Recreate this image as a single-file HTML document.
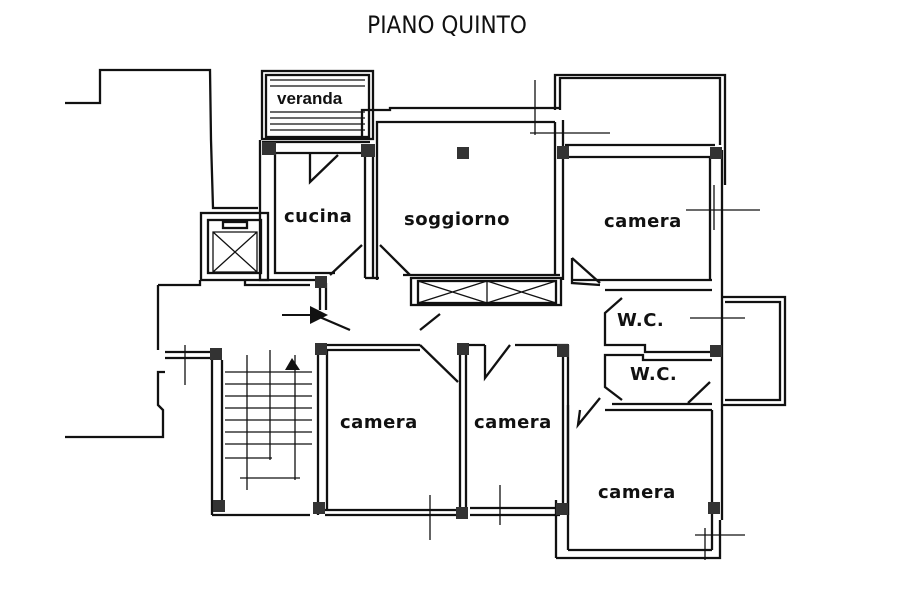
<!DOCTYPE html>
<html><head><meta charset="utf-8"><style>
html,body{margin:0;padding:0;background:#fff;}
svg{display:block}
text{font-family:"Liberation Sans",sans-serif;}
.h{font-family:"DejaVu Sans","Liberation Sans",sans-serif;font-size:18px;fill:#111;letter-spacing:0.5px;font-weight:bold}
</style></head><body>
<svg width="900" height="600" viewBox="0 0 900 600" xmlns="http://www.w3.org/2000/svg">
<rect width="900" height="600" fill="#fff"/>
<text x="447" y="33" text-anchor="middle" font-size="24" fill="#111" style="font-family:'DejaVu Sans Condensed','Liberation Sans Narrow','Liberation Sans',sans-serif">PIANO QUINTO</text>
<g fill="none" stroke="#111" stroke-width="2.3">
<polyline points="65,103 100,103 100,70 210,70 211,140 213,208 258,208"/>
<polyline points="65,437 163,437 163,410 158,405 158,372 165,372"/>
<polyline points="158,285 158,350"/>
<rect x="262" y="71" width="111" height="68"/>
<rect x="266" y="75" width="103" height="62"/>
<polyline points="260,140 260,280 320,280"/>
<polyline points="275,153 275,273 335,273"/>
<line x1="262" y1="142" x2="370" y2="142"/><line x1="262" y1="153" x2="370" y2="153"/>
<polyline points="310,153 310,182 338,155"/>
<polyline points="362,140 362,110 390,110 390,108 560,108"/>
<polyline points="377,280 377,122 555,122"/>
<line x1="365" y1="150" x2="365" y2="278"/><line x1="373" y1="153" x2="373" y2="278"/>
<line x1="365" y1="278" x2="379" y2="278"/>
<line x1="555" y1="122" x2="555" y2="275"/><line x1="563" y1="120" x2="563" y2="280"/>
<line x1="403" y1="275" x2="560" y2="275"/>
<polyline points="330,275 362,245"/>
<polyline points="380,245 410,275"/>
<rect x="411" y="278" width="150" height="27"/>
<rect x="418" y="281" width="138" height="22"/>
<path d="M418,281 L487,303 M418,303 L487,281 M487,281 L556,303 M487,303 L556,281 M487,281 V303" stroke-width="1.3"/>
<polyline points="555,110 555,75 725,75 725,185"/>
<polyline points="560,110 560,78 720,78 720,145"/>
<line x1="530" y1="133" x2="610" y2="133" stroke-width="1.3"/>
<line x1="535" y1="80" x2="535" y2="135" stroke-width="1.3"/>
<line x1="565" y1="145" x2="715" y2="145"/><line x1="565" y1="157" x2="710" y2="157"/>
<line x1="710" y1="157" x2="710" y2="280"/><line x1="722" y1="150" x2="722" y2="520"/>
<line x1="572" y1="280" x2="712" y2="280"/><line x1="605" y1="290" x2="712" y2="290"/>
<line x1="686" y1="210" x2="760" y2="210" stroke-width="1.3"/>
<line x1="714" y1="185" x2="714" y2="230" stroke-width="1.3"/>
<polyline points="572,258 572,283 600,285"/>
<polyline points="572,258 600,283"/>
<polyline points="622,298 605,313 605,345 620,345"/>
<polyline points="622,400 605,387 605,355 620,355"/>
<polyline points="600,398 578,425 580,410"/>
<polyline points="620,345 645,345 645,352 712,352"/>
<polyline points="620,355 643,355 643,360 712,360"/>
<polyline points="612,404 712,404"/><polyline points="605,410 712,410"/>
<polyline points="688,403 710,382"/>
<line x1="690" y1="318" x2="745" y2="318" stroke-width="1.3"/>
<polyline points="722,297 785,297 785,405 722,405"/>
<polyline points="725,302 780,302 780,400 725,400"/>
<line x1="568" y1="405" x2="568" y2="550"/><line x1="556" y1="500" x2="556" y2="558"/>
<line x1="712" y1="410" x2="712" y2="550"/>
<polyline points="556,558 720,558 720,520"/>
<line x1="568" y1="550" x2="712" y2="550"/>
<line x1="695" y1="535" x2="745" y2="535" stroke-width="1.3"/>
<line x1="705" y1="528" x2="705" y2="560" stroke-width="1.3"/>
<line x1="460" y1="345" x2="460" y2="515"/><line x1="466" y1="350" x2="466" y2="510"/>
<line x1="463" y1="345" x2="485" y2="345"/><line x1="515" y1="345" x2="568" y2="345"/>
<line x1="568" y1="345" x2="568" y2="515"/><line x1="563" y1="350" x2="563" y2="510"/>
<polyline points="485,345 485,378 510,345"/>
<line x1="470" y1="508" x2="560" y2="508"/><line x1="470" y1="515" x2="560" y2="515"/>
<line x1="500" y1="485" x2="500" y2="525" stroke-width="1.3"/>
<line x1="318" y1="345" x2="318" y2="515"/><line x1="327" y1="350" x2="327" y2="510"/>
<line x1="325" y1="345" x2="420" y2="345"/><line x1="325" y1="350" x2="420" y2="350"/>
<polyline points="420,345 458,382"/>
<polyline points="420,330 440,314"/>
<line x1="325" y1="510" x2="460" y2="510"/><line x1="325" y1="515" x2="460" y2="515"/>
<line x1="430" y1="495" x2="430" y2="540" stroke-width="1.3"/>
<line x1="212" y1="350" x2="212" y2="515"/><line x1="222" y1="360" x2="222" y2="505"/>
<line x1="212" y1="515" x2="310" y2="515"/>
<g stroke-width="1.3">
<line x1="225" y1="372" x2="312" y2="372"/><line x1="225" y1="384" x2="312" y2="384"/><line x1="225" y1="396" x2="312" y2="396"/><line x1="225" y1="408" x2="312" y2="408"/><line x1="225" y1="420" x2="312" y2="420"/><line x1="225" y1="432" x2="312" y2="432"/><line x1="225" y1="444" x2="312" y2="444"/><line x1="225" y1="458" x2="272" y2="458"/>
<line x1="247" y1="355" x2="247" y2="490"/><line x1="270" y1="350" x2="270" y2="460"/>
<line x1="240" y1="478" x2="300" y2="478"/><line x1="295" y1="355" x2="295" y2="480"/>
</g>
<polyline points="158,285 200,285 200,280"/>
<polyline points="245,280 245,285 310,285"/>
<line x1="320" y1="280" x2="320" y2="310"/><line x1="326" y1="283" x2="326" y2="310"/>
<polyline points="315,315 350,330"/>
<line x1="165" y1="352" x2="210" y2="352"/><line x1="165" y1="358" x2="210" y2="358"/>
<line x1="185" y1="345" x2="185" y2="385" stroke-width="1.3"/>
<rect x="201" y="213" width="67" height="67"/>
<rect x="208" y="220" width="53" height="53"/>
<path d="M213,232 L257,272 M257,232 L213,272 M213,232 H257 V272 H213 Z" stroke-width="1.3"/>
<rect x="223" y="222" width="24" height="6"/>
</g>
<g stroke="#111" stroke-width="1.2">
<line x1="270" y1="80" x2="365" y2="80"/><line x1="270" y1="86" x2="365" y2="86"/><line x1="270" y1="112" x2="365" y2="112"/><line x1="270" y1="118" x2="365" y2="118"/><line x1="270" y1="124" x2="365" y2="124"/><line x1="270" y1="130" x2="365" y2="130"/>
</g>
<g fill="#333">
<rect x="262" y="142" width="14" height="13"/><rect x="361" y="144" width="14" height="13"/>
<rect x="457" y="147" width="12" height="12"/><rect x="557" y="146" width="12" height="13"/>
<rect x="710" y="147" width="12" height="12"/><rect x="315" y="276" width="12" height="12"/>
<rect x="315" y="343" width="12" height="12"/><rect x="210" y="348" width="12" height="12"/>
<rect x="457" y="343" width="12" height="12"/><rect x="557" y="344" width="12" height="13"/>
<rect x="710" y="345" width="12" height="12"/><rect x="313" y="502" width="12" height="12"/>
<rect x="456" y="507" width="12" height="12"/><rect x="556" y="503" width="12" height="12"/>
<rect x="708" y="502" width="12" height="12"/><rect x="213" y="500" width="12" height="12"/>
</g>
<path d="M310,306 L328,315 L310,324 Z" fill="#111"/>
<line x1="282" y1="315" x2="310" y2="315" stroke="#111" stroke-width="2"/>
<path d="M285,370 L292,358 L300,370 Z" fill="#111"/>
<text x="277" y="104" font-size="17" fill="#111" font-weight="bold">veranda</text>
<text x="284" y="222" class="h">cucina</text>
<text x="404" y="225" class="h" font-size="20">soggiorno</text>
<text x="604" y="227" class="h">camera</text>
<text x="617" y="326" class="h" font-size="15">W.C.</text>
<text x="630" y="380" class="h" font-size="15">W.C.</text>
<text x="340" y="428" class="h">camera</text>
<text x="474" y="428" class="h">camera</text>
<text x="598" y="498" class="h">camera</text>
</svg>
</body></html>
